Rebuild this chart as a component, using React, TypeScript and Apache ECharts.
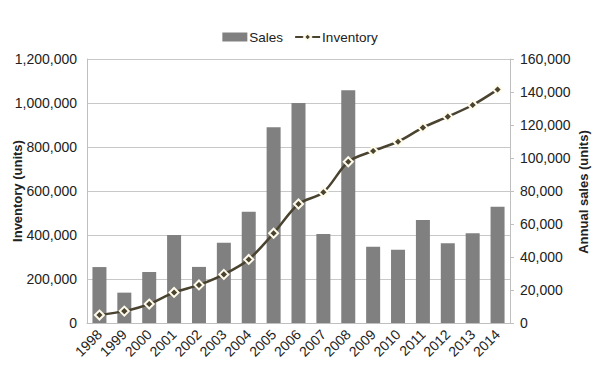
import React, { useEffect, useRef } from "react";
import * as echarts from "echarts";

const years = ["1998","1999","2000","2001","2002","2003","2004","2005","2006","2007","2008","2009","2010","2011","2012","2013","2014"];
const sales = [33900, 18400, 30900, 53300, 34000, 48700, 67400, 118600, 133300, 53900, 141000, 46200, 44400, 62400, 48300, 54400, 70500];
const inventory = [36000, 54000, 86000, 139000, 173000, 221000, 289000, 408000, 541000, 594000, 733000, 782000, 824000, 888000, 938000, 991000, 1061000];
const leftAxisName = "Inventory (units)";
const rightAxisName = "Annual sales (units)";

const fmt = (v: number) => v.toLocaleString("en-US");
const FONT = "Liberation Sans";

export default function App() {
  const ref = useRef<HTMLDivElement>(null);
  useEffect(() => {
    if (!ref.current) return;
    const chart = echarts.init(ref.current, undefined, { renderer: "svg" });
    const nameStyle = { fontFamily: FONT, fontSize: 13, fontWeight: "bold", fill: "#222", align: "center", verticalAlign: "middle" };
    chart.setOption({
      animation: false,
      backgroundColor: "#ffffff",
      textStyle: { fontFamily: FONT },
      legend: {
        top: 17,
        left: "center",
        itemGap: 11,
        itemWidth: 25,
        itemHeight: 9,
        textStyle: { fontFamily: FONT, fontSize: 13.5, color: "#222", padding: [0, 0, 0, -3] },
        data: [
          { name: "Sales", icon: "rect" },
          { name: "Inventory" },
        ],
      },
      graphic: [
        { type: "text", x: 9, y: 183, rotation: Math.PI / 2, style: { ...nameStyle, text: leftAxisName } },
        { type: "text", x: 575, y: 184, rotation: Math.PI / 2, style: { ...nameStyle, text: rightAxisName } },
      ],
      grid: { left: 79, right: 82, top: 51, bottom: 45, outerBoundsMode: "none", containLabel: false },
      xAxis: {
        type: "category",
        data: years,
        axisLine: { show: true, lineStyle: { color: "#bfbfbf", width: 1 } },
        axisTick: { show: false },
        axisLabel: { rotate: 45, fontFamily: FONT, fontSize: 14, color: "#222", margin: 9, interval: 0 },
      },
      yAxis: [
        {
          type: "value",
          min: 0,
          max: 1200000,
          interval: 200000,
          axisLine: { show: true, lineStyle: { color: "#bfbfbf" } },
          axisTick: { show: false },
          splitLine: { show: true, lineStyle: { color: "#c8c8c8", width: 1 } },
          axisLabel: { formatter: fmt, fontFamily: FONT, fontSize: 14, color: "#222", margin: 10 },
        },
        {
          type: "value",
          min: 0,
          max: 160000,
          interval: 20000,
          axisLine: { show: true, lineStyle: { color: "#bfbfbf" } },
          axisTick: { show: true, length: 4, lineStyle: { color: "#bfbfbf" } },
          splitLine: { show: false },
          axisLabel: { formatter: fmt, fontFamily: FONT, fontSize: 14, color: "#222", margin: 10 },
        },
      ],
      series: [
        {
          name: "Sales",
          type: "bar",
          yAxisIndex: 1,
          data: sales,
          barWidth: 14,
          itemStyle: { color: "#808080" },
        },
        {
          name: "Inventory",
          type: "line",
          yAxisIndex: 0,
          data: inventory,
          smooth: 0.3,
          symbol: "diamond",
          symbolSize: 9,
          lineStyle: { color: "#4a4330", width: 2.5 },
          itemStyle: { color: "#4a4330", borderColor: "#fffbea", borderWidth: 2 },
        },
      ],
    });
    return () => chart.dispose();
  }, []);
  return <div ref={ref} style={{ width: 584, height: 360 }} />;
}
